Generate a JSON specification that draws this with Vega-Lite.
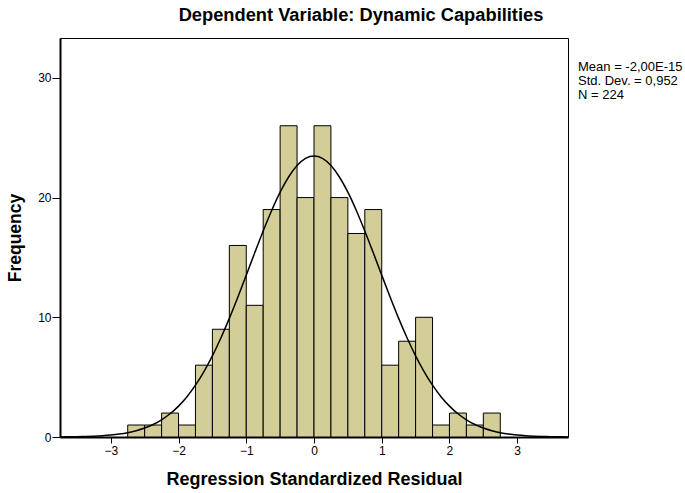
{
  "$schema": "https://vega.github.io/schema/vega-lite/v6.json",
  "width": 508,
  "height": 399,
  "autosize": "none",
  "padding": {"left": 60, "top": 38, "right": 117, "bottom": 56},
  "background": "white",
  "config": {
    "font": "Liberation Sans",
    "view": {"fill": "#f0f0f0", "stroke": "black", "strokeWidth": 1},
    "axis": {"grid": false, "labelFontSize": 12, "labelColor": "black", "tickColor": "black", "domainColor": "black", "titleFontSize": 18, "titleFontWeight": "bold", "titleColor": "black"}
  },
  "title": {"text": "Dependent Variable: Dynamic Capabilities", "fontSize": 18.3, "fontWeight": "bold", "anchor": "middle", "dx": 47, "offset": 13, "color": "black"},
  "datasets": {
    "bars": [
      {"bin_start": -2.75, "bin_end": -2.5, "count": 1},
      {"bin_start": -2.5, "bin_end": -2.25, "count": 1},
      {"bin_start": -2.25, "bin_end": -2.0, "count": 2},
      {"bin_start": -2.0, "bin_end": -1.75, "count": 1},
      {"bin_start": -1.75, "bin_end": -1.5, "count": 6},
      {"bin_start": -1.5, "bin_end": -1.25, "count": 9},
      {"bin_start": -1.25, "bin_end": -1.0, "count": 16},
      {"bin_start": -1.0, "bin_end": -0.75, "count": 11},
      {"bin_start": -0.75, "bin_end": -0.5, "count": 19},
      {"bin_start": -0.5, "bin_end": -0.25, "count": 26},
      {"bin_start": -0.25, "bin_end": 0.0, "count": 20},
      {"bin_start": 0.0, "bin_end": 0.25, "count": 26},
      {"bin_start": 0.25, "bin_end": 0.5, "count": 20},
      {"bin_start": 0.5, "bin_end": 0.75, "count": 17},
      {"bin_start": 0.75, "bin_end": 1.0, "count": 19},
      {"bin_start": 1.0, "bin_end": 1.25, "count": 6},
      {"bin_start": 1.25, "bin_end": 1.5, "count": 8},
      {"bin_start": 1.5, "bin_end": 1.75, "count": 10},
      {"bin_start": 1.75, "bin_end": 2.0, "count": 1},
      {"bin_start": 2.0, "bin_end": 2.25, "count": 2},
      {"bin_start": 2.25, "bin_end": 2.5, "count": 1},
      {"bin_start": 2.5, "bin_end": 2.75, "count": 2}
    ],
    "curve": [
      {"x": -3.75, "y": 0.010}, {"x": -3.625, "y": 0.017}, {"x": -3.5, "y": 0.027}, {"x": -3.375, "y": 0.044},
      {"x": -3.25, "y": 0.069}, {"x": -3.125, "y": 0.107}, {"x": -3.0, "y": 0.164}, {"x": -2.875, "y": 0.246},
      {"x": -2.75, "y": 0.362}, {"x": -2.625, "y": 0.524}, {"x": -2.5, "y": 0.747}, {"x": -2.375, "y": 1.045},
      {"x": -2.25, "y": 1.44}, {"x": -2.125, "y": 1.94}, {"x": -2.0, "y": 2.58}, {"x": -1.875, "y": 3.37},
      {"x": -1.75, "y": 4.33}, {"x": -1.625, "y": 5.47}, {"x": -1.5, "y": 6.78}, {"x": -1.375, "y": 8.27},
      {"x": -1.25, "y": 9.91}, {"x": -1.125, "y": 11.68}, {"x": -1.0, "y": 13.52}, {"x": -0.875, "y": 15.39},
      {"x": -0.75, "y": 17.21}, {"x": -0.625, "y": 18.92}, {"x": -0.5, "y": 20.45}, {"x": -0.375, "y": 21.72},
      {"x": -0.25, "y": 22.67}, {"x": -0.125, "y": 23.27}, {"x": 0.0, "y": 23.47}, {"x": 0.125, "y": 23.27},
      {"x": 0.25, "y": 22.67}, {"x": 0.375, "y": 21.72}, {"x": 0.5, "y": 20.45}, {"x": 0.625, "y": 18.92},
      {"x": 0.75, "y": 17.21}, {"x": 0.875, "y": 15.39}, {"x": 1.0, "y": 13.52}, {"x": 1.125, "y": 11.68},
      {"x": 1.25, "y": 9.91}, {"x": 1.375, "y": 8.27}, {"x": 1.5, "y": 6.78}, {"x": 1.625, "y": 5.47},
      {"x": 1.75, "y": 4.33}, {"x": 1.875, "y": 3.37}, {"x": 2.0, "y": 2.58}, {"x": 2.125, "y": 1.94},
      {"x": 2.25, "y": 1.44}, {"x": 2.375, "y": 1.045}, {"x": 2.5, "y": 0.747}, {"x": 2.625, "y": 0.524},
      {"x": 2.75, "y": 0.362}, {"x": 2.875, "y": 0.246}, {"x": 3.0, "y": 0.164}, {"x": 3.125, "y": 0.107},
      {"x": 3.25, "y": 0.069}, {"x": 3.375, "y": 0.044}, {"x": 3.5, "y": 0.027}, {"x": 3.625, "y": 0.017},
      {"x": 3.75, "y": 0.010}
    ],
    "stats": [
      {"stat": "Mean = -2,00E-15"},
      {"stat": "Std. Dev. = 0,952"},
      {"stat": "N = 224"}
    ]
  },
  "layer": [
    {
      "data": {"name": "bars"},
      "mark": {"type": "rect", "fill": "#d3ce97", "stroke": "black", "strokeWidth": 1},
      "encoding": {
        "x": {"field": "bin_start", "type": "quantitative", "scale": {"domain": [-3.75, 3.75], "nice": false, "zero": false},
              "axis": {"values": [-3, -2, -1, 0, 1, 2, 3], "format": "d", "title": "Regression Standardized Residual", "titlePadding": 14, "labelPadding": 2, "tickSize": 6, "domainWidth": 2}},
        "x2": {"field": "bin_end"},
        "y": {"field": "count", "type": "quantitative", "scale": {"domain": [0, 33.33], "nice": false},
              "axis": {"values": [0, 10, 20, 30], "title": "Frequency", "titleFontSize": 17.5, "titlePadding": 13, "labelPadding": 1, "tickSize": 8, "domainWidth": 2}},
        "y2": {"datum": 0}
      }
    },
    {
      "data": {"name": "curve"},
      "mark": {"type": "line", "color": "black", "strokeWidth": 1.5, "interpolate": "monotone", "clip": true},
      "encoding": {
        "x": {"field": "x", "type": "quantitative"},
        "y": {"field": "y", "type": "quantitative"}
      }
    },
    {
      "data": {"name": "stats"},
      "mark": {"type": "point", "opacity": 0},
      "encoding": {
        "color": {"field": "stat", "type": "nominal",
                  "scale": {"domain": ["Mean = -2,00E-15", "Std. Dev. = 0,952", "N = 224"], "range": ["black", "black", "black"]},
                  "legend": {"title": null, "orient": "none", "legendX": 505, "legendY": 22, "symbolSize": 0, "symbolStrokeWidth": 0, "symbolOpacity": 0, "labelOffset": 0, "labelFontSize": 13, "labelColor": "black", "rowPadding": -1, "labelLimit": 200}}
      }
    }
  ]
}
